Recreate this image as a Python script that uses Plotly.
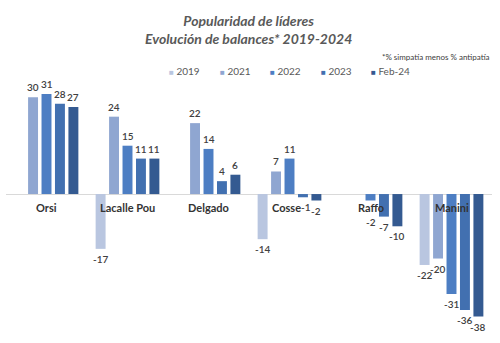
import plotly.graph_objects as go

# Leaders and survey waves
leaders = ["Orsi", "Lacalle Pou", "Delgado", "Cosse", "Raffo", "Manini"]
waves = ["2019", "2021", "2022", "2023", "Feb-24"]

# Balance (% sympathy minus % antipathy); None = not measured
bal_2019 = [None, -17, None, -14, None, -22]
bal_2021 = [30, 24, 22, 7, None, -20]
bal_2022 = [31, 15, 14, 11, -2, -31]
bal_2023 = [28, 11, 4, -1, -7, -36]
bal_feb24 = [27, 11, 6, -2, -10, -38]

series = [bal_2019, bal_2021, bal_2022, bal_2023, bal_feb24]
colors = ["#b9c6e0", "#8fa6d1", "#4d7ec3", "#4270b0", "#345a91"]

FONT = "Lato, Open Sans, sans-serif"
W, H = 500, 343
ML, MR, MT, MB = 6, 8, 78, 20
PW, PH = W - ML - MR, H - MT - MB
BARGAP, GROUPGAP = 0.17, 0.26

# pixel width of one bar slot inside a category group
SLOT = PW / len(leaders) * (1 - BARGAP) / len(waves)

# (x, y) pixel nudges for value labels that would collide with a category name
label_nudge = {("Raffo", "2022"): (0, -11), ("Cosse", "2023"): (3, 0)}
# x pixel nudges for category names
name_nudge = {"Cosse": -3}


def px_x(x):
    return (x - ML) / PW


def px_y(y):
    return (H - MB - y) / PH


fig = go.Figure()
for i, (name, vals, col) in enumerate(zip(waves, series, colors)):
    fig.add_trace(go.Bar(
        name=name,
        x=leaders,
        y=vals,
        marker=dict(color=col, line=dict(width=0)),
        showlegend=False,
    ))
    # value label just outside the end of each bar
    for leader, v in zip(leaders, vals):
        if v is None:
            continue
        dx, dy = label_nudge.get((leader, name), (0, 0))
        fig.add_annotation(
            x=leader, y=v, xref="x", yref="y",
            text=str(v), showarrow=False,
            xshift=(i - (len(waves) - 1) / 2) * SLOT + dx,
            yanchor="bottom" if v >= 0 else "top",
            yshift=(2 if v >= 0 else -2) + dy,
            font=dict(family=FONT, size=10, color="#404040", weight=600),
        )

# Category names sit on the zero line, as in a spreadsheet chart
for name in leaders:
    fig.add_annotation(
        x=name, y=0, xref="x", yref="y",
        text=f"<b>{name}</b>", showarrow=False,
        xshift=name_nudge.get(name, 0),
        yanchor="top", yshift=-5,
        font=dict(family=FONT, size=11, color="#333333"),
    )

# Title and footnote
fig.add_annotation(
    x=px_x(248), y=px_y(29), xref="paper", yref="paper",
    text="<b><i>Popularidad de líderes<br>Evolución de balances* 2019-2024</i></b>",
    showarrow=False, xanchor="center", yanchor="middle",
    font=dict(family=FONT, size=14, color="#595959"),
)
fig.add_annotation(
    x=px_x(492), y=px_y(57), xref="paper", yref="paper",
    text="*% simpatía menos % antipatía", showarrow=False,
    xanchor="right", yanchor="middle",
    font=dict(family=FONT, size=8, color="#404040"),
)

# Legend row: small coloured squares followed by the wave name
for i, (name, col) in enumerate(zip(waves, colors)):
    fig.add_annotation(
        x=px_x(167 + 50.5 * i), y=px_y(71.5), xref="paper", yref="paper",
        text=f"<span style='color:{col};font-size:8px'>■</span> {name}",
        showarrow=False, xanchor="left", yanchor="middle",
        font=dict(family=FONT, size=10, color="#595959"),
    )

fig.update_layout(
    width=W, height=H,
    margin=dict(l=ML, r=MR, t=MT, b=MB),
    paper_bgcolor="white", plot_bgcolor="white",
    barmode="group", bargap=BARGAP, bargroupgap=GROUPGAP,
    showlegend=False,
    xaxis=dict(showticklabels=False, showgrid=False, showline=False, ticks=""),
    yaxis=dict(range=[-40, 36], showticklabels=False, showgrid=False,
               zeroline=True, zerolinecolor="#d9d9d9", zerolinewidth=1,
               showline=False, ticks=""),
)

fig.write_html("out.html")
